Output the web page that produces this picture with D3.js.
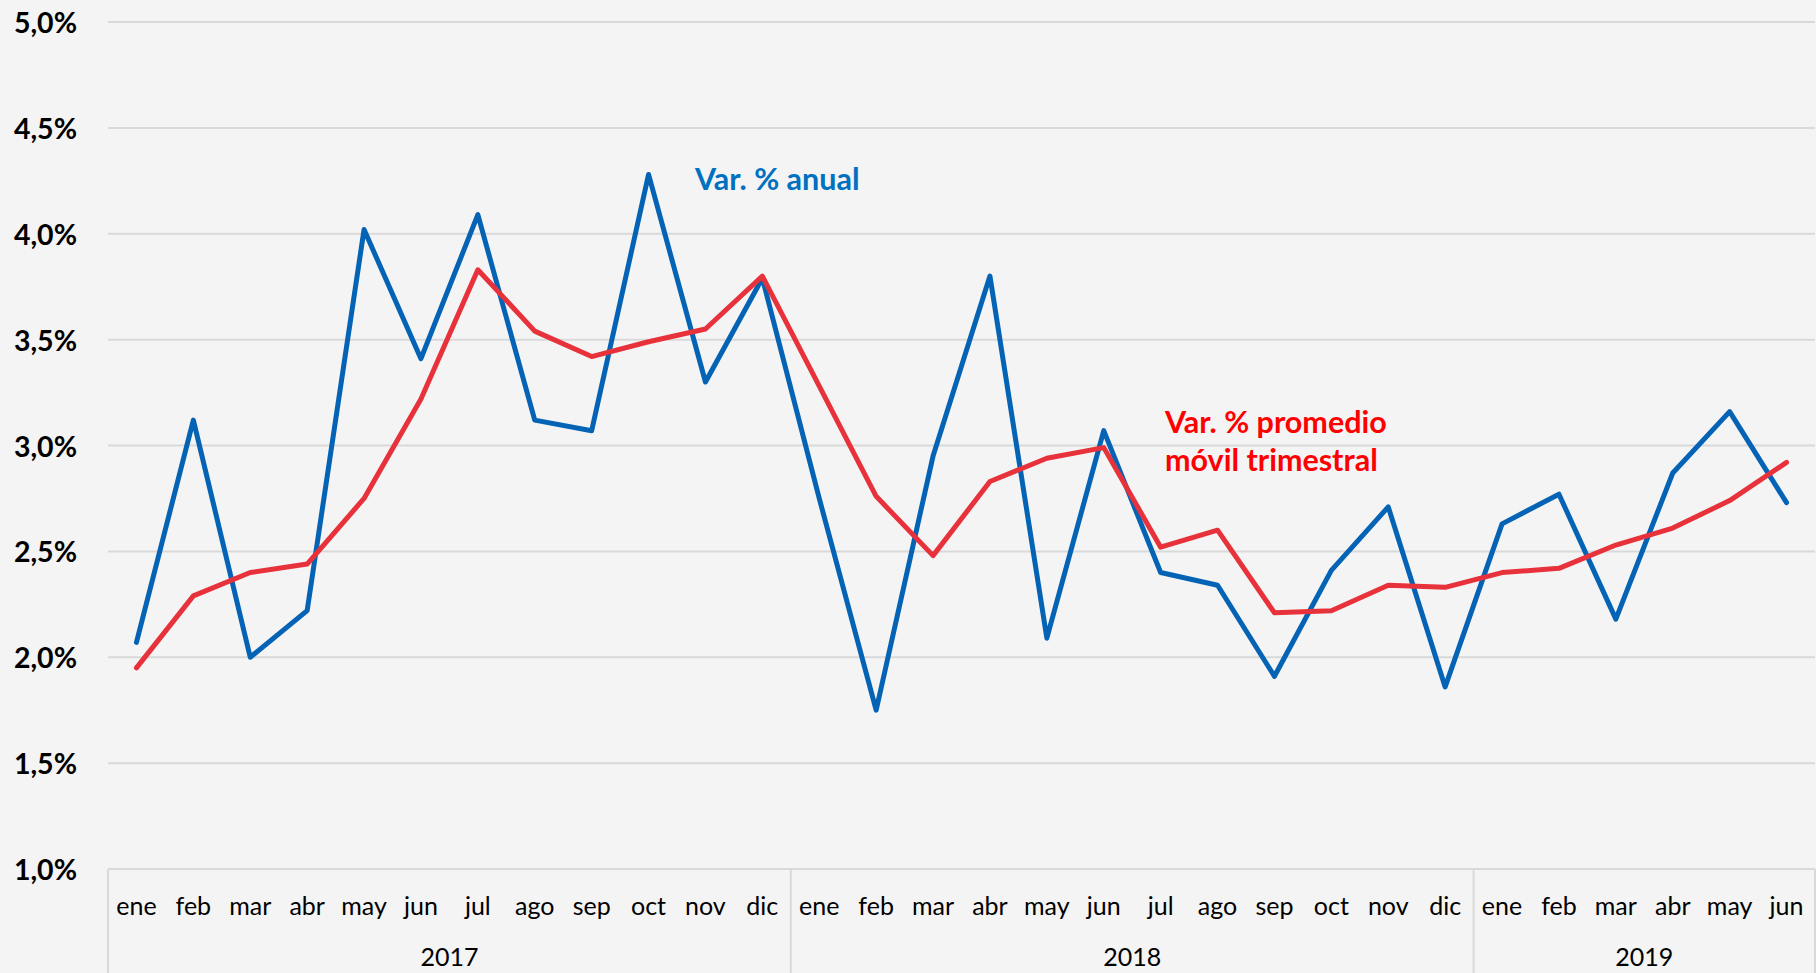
<!DOCTYPE html>
<html><head><meta charset="utf-8">
<script src="https://cdn.jsdelivr.net/npm/d3@7"></script>
<style>html,body{margin:0;padding:0;background:#f4f4f4;overflow:hidden}</style>
</head><body>
<script>
const months = ["ene","feb","mar","abr","may","jun","jul","ago","sep","oct","nov","dic"];
const years = ["2017","2018","2019"];
const monthsPerYear = [12, 12, 6];
const varAnual = [2.07,3.12,2.00,2.22,4.02,3.41,4.09,3.12,3.07,4.28,3.30,3.79,
                  2.75,1.75,2.95,3.80,2.09,3.07,2.40,2.34,1.91,2.41,2.71,1.86,
                  2.63,2.77,2.18,2.87,3.16,2.73];
const varMovil = [1.95,2.29,2.40,2.44,2.75,3.22,3.83,3.54,3.42,3.49,3.55,3.80,
                  3.28,2.76,2.48,2.83,2.94,2.99,2.52,2.60,2.21,2.22,2.34,2.33,
                  2.40,2.42,2.53,2.61,2.74,2.92];
const yTicks = [1.0,1.5,2.0,2.5,3.0,3.5,4.0,4.5,5.0];

(function(){
const W = 1816, H = 973;
const mLeft = 108, mRight = 1815, mTop = 22, mBottom = 869;
const cats = [];
years.forEach((y,i)=>{ for(let m=0;m<monthsPerYear[i];m++) cats.push({key:y+"-"+m, m:months[m], y}); });

const svg = d3.select("body").append("svg").attr("width",W).attr("height",H)
  .style("font-family","Lato, 'Open Sans', sans-serif");
svg.append("rect").attr("width",W).attr("height",H).attr("fill","#f4f4f4");

const x = d3.scaleBand().domain(cats.map(d=>d.key)).range([mLeft,mRight]).paddingInner(0).paddingOuter(0);
const y = d3.scaleLinear().domain([1,5]).range([mBottom,mTop]);

svg.append("g").selectAll("line").data(yTicks.filter(t=>t>1)).join("line")
  .attr("x1",mLeft).attr("x2",mRight).attr("y1",d=>y(d)).attr("y2",d=>y(d))
  .attr("stroke","#d9d9d9").attr("stroke-width",2);

const fmt = d=>d.toFixed(1).replace(".",",")+"%";
svg.append("g").selectAll("text").data(yTicks).join("text")
  .attr("x",77).attr("y",d=>y(d)).attr("text-anchor","end").attr("dominant-baseline","central")
  .attr("font-size",28.5).attr("font-weight","bold").attr("fill","#000").text(fmt);

const ax = svg.append("g").attr("stroke","#d9d9d9").attr("stroke-width",2);
ax.append("line").attr("x1",mLeft).attr("x2",mRight).attr("y1",mBottom).attr("y2",mBottom);
let idx=0; const bounds=[mLeft];
monthsPerYear.forEach(n=>{ idx+=n; bounds.push(x(cats[idx-1].key)+x.bandwidth()); });
ax.selectAll("line.sep").data(bounds).join("line").attr("class","sep")
  .attr("x1",d=>d).attr("x2",d=>d).attr("y1",mBottom).attr("y2",H);

svg.append("g").selectAll("text").data(cats).join("text")
  .attr("x",d=>x(d.key)+x.bandwidth()/2).attr("y",915).attr("text-anchor","middle")
  .attr("font-size",25).attr("fill","#000").text(d=>d.m);
svg.append("g").selectAll("text").data(years).join("text")
  .attr("x",(d,i)=>(bounds[i]+bounds[i+1])/2).attr("y",966).attr("text-anchor","middle")
  .attr("font-size",25).attr("fill","#000").text(d=>d);

const line = d3.line().x((d,i)=>x(cats[i].key)+x.bandwidth()/2).y(d=>y(d));
svg.append("path").datum(varAnual).attr("d",line).attr("fill","none")
  .attr("stroke","#0563b5").attr("stroke-width",5).attr("stroke-linejoin","round").attr("stroke-linecap","round");
svg.append("path").datum(varMovil).attr("d",line).attr("fill","none")
  .attr("stroke","#e8323b").attr("stroke-width",5).attr("stroke-linejoin","round").attr("stroke-linecap","round");

svg.append("text").attr("x",695).attr("y",190).attr("font-size",30.5).attr("font-weight","bold")
  .attr("fill","#0070c0").text("Var. % anual");
const t2 = svg.append("text").attr("x",1165).attr("y",433).attr("font-size",30.5).attr("font-weight","bold")
  .attr("fill","#ff0000");
t2.append("tspan").attr("x",1165).text("Var. % promedio");
t2.append("tspan").attr("x",1165).attr("dy",38).text("móvil trimestral");
})();
</script>
</body></html>
